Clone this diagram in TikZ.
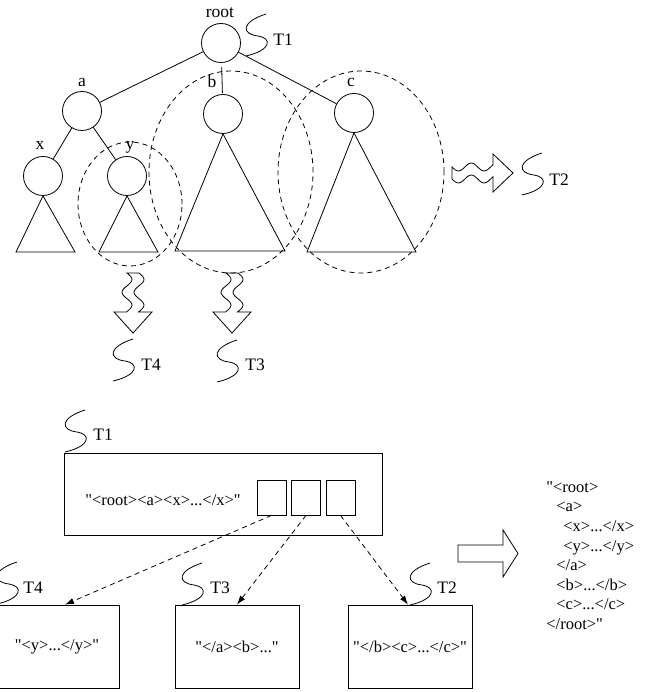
\documentclass[tikz,border=0pt]{standalone}
\usepackage{fontspec}
\setmainfont{Liberation Serif}[Ligatures=TeXOff]
\usetikzlibrary{arrows.meta}

\begin{document}
\begin{tikzpicture}[x=1pt,y=-1pt,line width=0.8pt,
  knot/.style={draw,circle,minimum size=39pt,inner sep=0pt},
  lbl/.style={font=\fontsize{17.5}{20}\selectfont,inner sep=1pt},
  txt/.style={font=\fontsize{16.5}{19.6}\selectfont,inner sep=0pt},
  slot/.style={draw,minimum width=29pt,minimum height=35pt,inner sep=0pt},
  strbox/.style={draw,minimum width=124pt,minimum height=83pt,inner sep=0pt,
    font=\fontsize{16.5}{19.6}\selectfont},
  region/.style={dash pattern=on 5pt off 4pt},
  ptr/.style={dash pattern=on 5pt off 4pt,-{Latex[length=9pt,width=6pt]}},
  squig/.style={insert path={.. controls +(-25,8) and +(-17,-2) .. ++(-8,22)
    .. controls +(14,2) and +(26,-6) .. ++(-12,20)}}]
  \useasboundingbox (0,0) rectangle (646,692);
  % the tree
  \node[knot] (root) at (221,43) {};
  \node[knot] (a) at (82,111) {};
  \node[knot] (b) at (223,114) {};
  \node[knot] (c) at (354,113) {};
  \node[knot] (x) at (43,176) {};
  \node[knot] (y) at (127,176) {};
  \node[lbl] (rootlbl) at (220,13) {root};
  \node[lbl] (albl) at (82,82) {a};
  \node[lbl] (blbl) at (212,82) {b};
  \node[lbl] (clbl) at (351,82) {c};
  \node[lbl] (xlbl) at (40,145) {x};
  \node[lbl] (ylbl) at (130,147) {y};
  \draw (root) -- (a);
  \draw[shorten <=4pt,shorten >=1pt] (root) -- (b);
  \draw (root) -- (c);
  \draw (a) -- (x);
  \draw (a) -- (y);
  \draw (x.south) -- (16,252) -- (75,252) -- cycle;
  \draw (y.south) -- (99,252) -- (158,252) -- cycle;
  \draw (b.south) -- (175,251) -- (285,251) -- cycle;
  \draw (c.south) -- (307,252) -- (416,252) -- cycle;
  % split regions
  \draw[region] (130,204) ellipse [x radius=52pt,y radius=62pt];
  \draw[region] (231,172) ellipse [x radius=82pt,y radius=101pt];
  \draw[region] (361,172) ellipse [x radius=83pt,y radius=101pt];
  % wavy arrows
  \begin{scope}[shift={(133,273)}]
    \draw plot[smooth,domain=0:39] ({-6+5*sin(14*\x)},\x) -- (-19,39) -- (0,60)
      -- (19,39) -- plot[smooth,domain=39:0] ({6+5*sin(14*\x)},\x) -- cycle;
  \end{scope}
  \begin{scope}[shift={(232,273)}]
    \draw plot[smooth,domain=0:39] ({-6+5*sin(14*\x)},\x) -- (-19,39) -- (0,60)
      -- (19,39) -- plot[smooth,domain=39:0] ({6+5*sin(14*\x)},\x) -- cycle;
  \end{scope}
  \begin{scope}[shift={(452,173)}]
    \draw plot[smooth,domain=0:41] (\x,{-6+4*sin(14*\x)}) -- (41,-19) -- (61,0)
      -- (41,19) -- plot[smooth,domain=41:0] (\x,{6+4*sin(14*\x)}) -- cycle;
  \end{scope}
  % tags
  \draw (266,14) [squig];
  \node[lbl,anchor=west] (tagT1) at (272,40) {T1};
  \draw (542,153) [squig];
  \node[lbl,anchor=west] (tagT2) at (548,180) {T2};
  \draw (133,339) [squig];
  \node[lbl,anchor=west] (tagT4) at (140,365) {T4};
  \draw (237,340) [squig];
  \node[lbl,anchor=west] (tagT3) at (244,365) {T3};
  % strings
  \node[draw,minimum width=318pt,minimum height=82pt,inner sep=0pt] (t1box) at (223,494) {};
  \node[txt] (t1str) at (163,500) {"<root><a><x>...</x>"};
  \node[slot] (s1) at (271.5,497.5) {};
  \node[slot] (s2) at (306,497.5) {};
  \node[slot] (s3) at (340.5,497.5) {};
  \node[strbox] (t4box) at (57,646.5) {"<y>...</y>"};
  \node[strbox] (t3box) at (237,646.5) {"</a><b>..."};
  \node[strbox] (t2box) at (410,646.5) {"</b><c>...</c>"};
  \draw[ptr] (s1.south) -- ([xshift=8pt]t4box.north);
  \draw[ptr] (s2.south) -- (t3box.north);
  \draw[ptr] (s3.south) -- ([xshift=-2pt]t2box.north);
  \draw (85,410) [squig];
  \node[lbl,anchor=west] (tagB1) at (92,435) {T1};
  \draw (17,562) [squig];
  \node[lbl,anchor=west] (tagB4) at (22,588) {T4};
  \draw (202,563) [squig];
  \node[lbl,anchor=west] (tagB3) at (209,588) {T3};
  \draw (430,563) [squig];
  \node[lbl,anchor=west] (tagB2) at (436,588) {T2};
  % result
  \draw (458,545) -- (503,545) -- (503,530) -- (518,553.5) -- (503,577)
    -- (503,562) -- (458,562) -- cycle;
  \node[txt,anchor=north west,align=left] (xml) at (546,481)
    {"<root>\\\hspace{10pt}<a>\\\hspace{17pt}<x>...</x>\\\hspace{17pt}<y>...</y>\\
     \hspace{10pt}</a>\\\hspace{10pt}<b>...</b>\\\hspace{10pt}<c>...</c>\\</root>"};
\end{tikzpicture}
\end{document}
